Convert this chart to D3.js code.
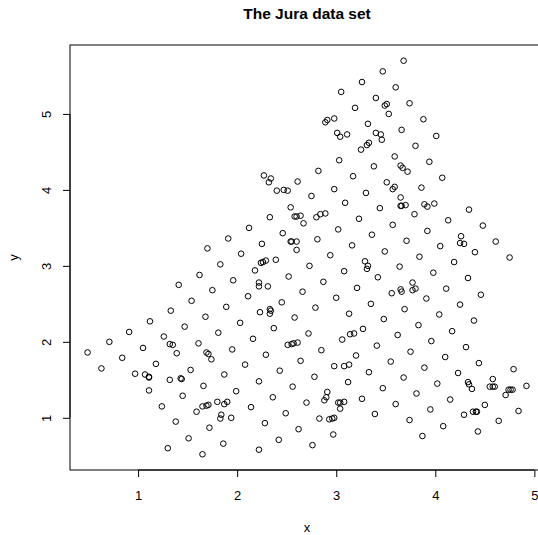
<!DOCTYPE html>
<html><head><meta charset="utf-8">
<script src="https://cdn.jsdelivr.net/npm/d3@7"></script>
<style>html,body{margin:0;padding:0;background:#fff;}svg{display:block;}</style>
</head><body>
<script>
const title = "The Jura data set";
const xLabel = "x", yLabel = "y";
const xTicks = [1, 2, 3, 4, 5];
const yTicks = [1, 2, 3, 4, 5];
const xs = [3.68,3.47,3.26,3.60,3.05,3.40,3.51,3.49,3.53,3.74,3.19,2.91,2.89,2.98,3.88,3.32,3.66,3.40,3.45,3.46,
3.01,3.04,3.11,4.01,3.33,3.31,3.80,3.25,3.59,3.03,3.94,3.38,3.65,3.67,3.72,2.82,3.17,4.07,2.27,2.34,
2.32,2.61,3.51,3.59,3.57,3.86,2.47,2.40,2.51,2.98,3.30,2.75,1.91,1.70,1.83,1.62,1.96,1.41,1.75,1.54,
1.89,1.33,1.68,1.12,1.47,0.91,1.81,1.26,3.09,3.44,2.54,2.58,2.60,2.64,2.67,2.33,2.80,2.84,2.89,3.23,
2.12,3.02,2.46,3.36,2.54,2.55,2.60,2.81,2.25,3.16,2.60,3.49,2.04,2.94,2.24,2.26,2.29,2.39,2.18,2.73,
3.29,3.32,3.31,3.08,2.52,3.42,2.87,2.22,2.22,2.31,3.21,2.66,2.11,3.00,2.45,3.35,2.79,2.33,2.34,2.33,
2.23,3.13,2.58,3.48,2.03,2.37,2.72,3.14,3.18,3.27,3.65,3.65,3.66,3.70,3.89,3.92,3.99,3.79,4.34,4.13,
4.48,3.57,3.92,4.26,4.25,4.29,4.61,3.71,4.05,4.40,4.75,3.84,4.19,3.64,3.98,4.33,3.77,3.80,3.77,3.65,
3.66,3.56,4.11,4.46,3.91,4.25,3.69,4.04,4.39,3.83,4.17,3.62,0.71,1.05,1.32,1.35,1.61,1.95,0.49,1.39,
0.84,1.69,1.71,1.74,1.18,0.63,1.53,0.97,1.07,1.11,1.11,1.32,1.43,1.44,1.87,1.66,1.11,1.99,1.45,1.24,
1.59,1.65,1.69,1.71,1.80,1.87,1.90,1.84,1.83,1.94,1.38,1.72,1.51,1.86,1.30,1.65,2.16,2.51,2.55,2.57,
2.61,3.06,3.41,2.29,2.85,2.64,3.20,2.08,2.43,2.98,3.08,3.13,3.33,2.78,2.22,2.56,3.12,3.47,2.36,2.91,
2.90,2.88,2.70,3.02,3.04,3.08,3.04,3.26,2.14,2.49,2.83,2.93,2.96,2.98,3.39,2.28,2.62,2.97,2.42,2.76,
2.22,3.96,4.31,3.75,4.10,3.55,4.44,3.89,4.79,4.23,3.68,4.58,4.02,4.33,4.34,4.37,4.55,4.58,4.60,4.74,
4.76,4.78,4.71,4.92,3.81,4.15,3.60,3.95,4.50,4.38,4.41,4.42,4.29,4.84,3.74,4.64,4.08,4.43,3.87];
const ys = [5.70,5.56,5.42,5.35,5.29,5.21,5.13,5.11,5.00,5.14,5.08,4.92,4.89,4.94,4.93,4.87,4.79,4.75,4.73,4.66,
4.75,4.70,4.73,4.71,4.62,4.59,4.58,4.53,4.44,4.39,4.37,4.31,4.32,4.29,4.24,4.25,4.18,4.16,4.19,4.15,
4.10,4.11,4.10,4.04,4.01,4.03,4.00,3.99,3.99,4.01,3.96,3.92,3.36,3.23,3.02,2.88,2.81,2.75,2.68,2.54,
2.46,2.41,2.33,2.27,2.20,2.13,2.12,2.07,3.83,3.76,3.77,3.65,3.65,3.66,3.56,3.64,3.64,3.68,3.69,3.62,
3.50,3.48,3.43,3.41,3.32,3.32,3.32,3.35,3.29,3.27,3.21,3.19,3.16,3.14,3.04,3.05,3.07,3.08,2.94,3.00,
3.06,3.00,2.96,2.93,2.86,2.85,2.79,2.78,2.73,2.73,2.71,2.66,2.60,2.58,2.52,2.50,2.45,2.43,2.41,2.37,
2.39,2.37,2.32,2.30,2.25,2.18,2.11,2.10,2.11,2.17,3.90,3.79,3.79,3.80,3.81,3.78,3.82,3.68,3.74,3.60,
3.53,3.54,3.46,3.39,3.30,3.29,3.32,3.33,3.26,3.18,3.11,3.12,3.05,2.99,2.91,2.84,2.78,2.70,2.68,2.69,
2.66,2.64,2.70,2.62,2.57,2.49,2.43,2.36,2.28,2.22,2.14,2.09,2.00,1.92,1.97,1.96,1.98,1.90,1.86,1.85,
1.79,1.86,1.84,1.77,1.71,1.65,1.63,1.58,1.57,1.54,1.53,1.50,1.52,1.51,1.57,1.42,1.36,1.35,1.29,1.15,
1.08,1.15,1.16,1.17,1.21,1.18,1.21,1.04,0.99,1.00,0.95,0.87,0.73,0.66,0.60,0.52,2.04,1.96,1.97,1.98,
1.99,2.03,1.95,1.83,1.89,1.75,1.82,1.70,1.62,1.68,1.68,1.70,1.60,1.54,1.48,1.41,1.47,1.39,1.27,1.34,
1.27,1.23,1.20,1.20,1.20,1.21,1.12,1.25,1.14,1.06,0.99,0.98,0.99,1.00,1.05,0.93,0.85,0.78,0.71,0.64,
0.58,2.01,1.93,1.87,1.80,1.74,1.72,1.66,1.64,1.59,1.53,1.51,1.45,1.47,1.44,1.38,1.41,1.41,1.41,1.37,
1.37,1.37,1.30,1.42,1.32,1.24,1.18,1.11,1.17,1.08,1.08,1.08,1.04,1.09,0.97,0.96,0.89,0.82,0.76];

const W = 538, H = 535;
const plot = {left: 70, right: 544, top: 45, bottom: 470};
const FONT = "'Liberation Sans', Arial, Helvetica, sans-serif";

function pad(ext) { const d = ext[1] - ext[0]; return [ext[0] - 0.04 * d, ext[1] + 0.04 * d]; }
const x = d3.scaleLinear().domain(pad(d3.extent(xs))).range([plot.left, plot.right]);
const y = d3.scaleLinear().domain(pad(d3.extent(ys))).range([plot.bottom, plot.top]);

const svg = d3.select("body").append("svg").attr("width", W).attr("height", H)
  .style("font-family", FONT);

// points
const pts = xs.map((v, i) => ({x: v, y: ys[i]}));
svg.append("g").selectAll("circle").data(pts).join("circle")
  .attr("cx", d => x(d.x)).attr("cy", d => y(d.y)).attr("r", 2.8)
  .attr("fill", "none").attr("stroke", "#000").attr("stroke-width", 1);

// box
svg.append("rect").attr("x", plot.left).attr("y", plot.top)
  .attr("width", plot.right - plot.left).attr("height", plot.bottom - plot.top)
  .attr("fill", "none").attr("stroke", "#000").attr("stroke-width", 1);

// x axis
const gx = svg.append("g").attr("transform", `translate(0,${plot.bottom})`)
  .call(d3.axisBottom(x).tickValues(xTicks).tickSize(7).tickFormat(d3.format("d")));
gx.select(".domain").remove();
gx.append("line").attr("x1", x(xTicks[0])).attr("x2", x(xTicks[xTicks.length - 1]))
  .attr("stroke", "#000");
gx.selectAll(".tick line").attr("stroke", "#000");
gx.selectAll(".tick text").attr("y", 30).attr("dy", 0).attr("fill", "#000")
  .style("font-size", "13px").style("font-family", FONT);

// y axis
const gy = svg.append("g").attr("transform", `translate(${plot.left},0)`)
  .call(d3.axisLeft(y).tickValues(yTicks).tickSize(7).tickFormat(d3.format("d")));
gy.select(".domain").remove();
gy.append("line").attr("y1", y(yTicks[0])).attr("y2", y(yTicks[yTicks.length - 1]))
  .attr("stroke", "#000");
gy.selectAll(".tick line").attr("stroke", "#000");
gy.selectAll(".tick text").attr("x", null).attr("dy", 0)
  .attr("transform", "translate(-19,0) rotate(-90)")
  .attr("text-anchor", "middle").attr("fill", "#000")
  .style("font-size", "13px").style("font-family", FONT);

// titles
const cx = (plot.left + plot.right) / 2, cy = (plot.top + plot.bottom) / 2;
svg.append("text").attr("x", cx).attr("y", 19).attr("text-anchor", "middle")
  .style("font-size", "15.5px").style("font-weight", "bold").text(title);
svg.append("text").attr("x", cx).attr("y", 531.5).attr("text-anchor", "middle")
  .style("font-size", "13px").text(xLabel);
svg.append("text").attr("transform", `translate(18,${cy}) rotate(-90)`)
  .attr("text-anchor", "middle").style("font-size", "13px").text(yLabel);
</script>
</body></html>
